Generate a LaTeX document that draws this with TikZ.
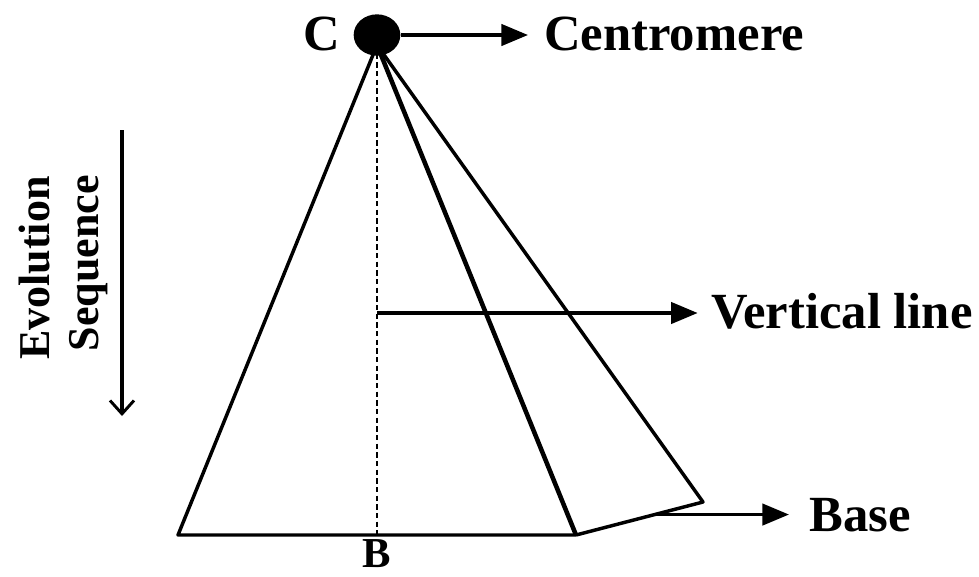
\documentclass[tikz,border=0pt]{standalone}
\usepackage{fontspec}
\setmainfont{Liberation Serif}
\usetikzlibrary{arrows.meta,positioning,calc,shapes.geometric}

\begin{document}
\begin{tikzpicture}[x=0.75pt,y=0.75pt,yscale=-1,xscale=1,
	lbl/.style={font=\bfseries\fontsize{38}{42}\selectfont, inner sep=0pt, anchor=base},
	sidelbl/.style={font=\bfseries\fontsize{33}{36}\selectfont, inner sep=0pt, rotate=90},
	edge/.style={line width=2.6pt, line join=round},
	pointer/.style={line width=2.6pt, -{Triangle[length=20pt,width=16pt]}}]
	\path[use as bounding box] (0,0) rectangle (979,576);
	
	%Corners of the figure
	\coordinate (apex) at (377,45);
	\coordinate (baseL) at (178,535);
	\coordinate (baseR) at (576,535);
	\coordinate (tip) at (703,502);
	\coordinate (foot) at (377,535);
	
	%Straight Lines
	\draw [line width=1pt, dash pattern={on 4pt off 2.5pt}] (apex) -- (foot);
	\draw [edge] (apex) -- (baseL) -- (baseR);
	\draw [edge, line width=3.4pt] (apex) -- (baseR);
	\draw [edge] (apex) -- (tip) -- (baseR);
	
	%Shape: Centromere
	\node (cen) [ellipse, fill=black, minimum width=35pt, minimum height=31pt, inner sep=0pt] at (377,35) {};
	
	% Text Node
	\node (c) [lbl] at (322,50) {C};
	\node (cenlbl) [lbl, anchor=base west] at (544,50) {Centromere};
	\node (vlbl) [lbl, anchor=base west] at (711,328) {Vertical line};
	\node (baselbl) [lbl, anchor=base west] at (809,531) {Base};
	\node (b) [lbl, font=\bfseries\fontsize{32}{34}\selectfont] at (377,567) {B};
	\node (evo) [sidelbl] at (35,268) {Evolution};
	\node (seq) [sidelbl] at (89,263) {Sequence};
	
	%Pointers
	\coordinate (vstart) at (377,313);
	\coordinate (bstart) at ($(baseR)!0.62!(tip)$);
	\draw [pointer] (cen.east) -- ([xshift=-12pt]cenlbl.west |- cen.east);
	\draw [pointer] (vstart) -- ([xshift=-10pt]vlbl.west |- vstart);
	\draw [pointer] (bstart) -- ([xshift=-15pt]baselbl.west |- bstart);
	
	%Evolution arrow
	\coordinate (evtop) at (122,130);
	\coordinate (evbot) at (122,416);
	\draw [line width=2.4pt, -{Straight Barb[length=10pt,width=18pt,line width=2.2pt]}] (evtop) -- (evbot);
\end{tikzpicture}
\end{document}
